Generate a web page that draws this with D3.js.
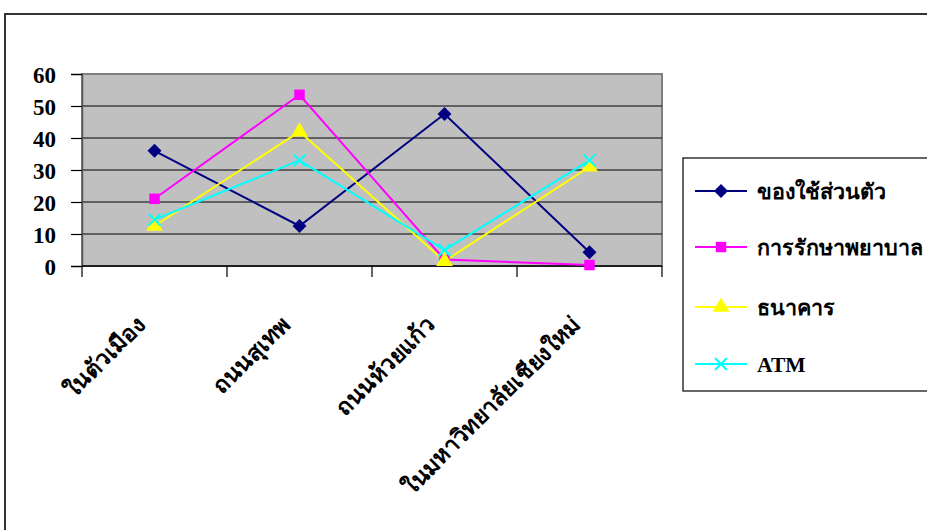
<!DOCTYPE html>
<html>
<head>
<meta charset="utf-8">
<style>
  body { margin: 0; background: #fff; }
  text { font-family: "Liberation Serif", "Times New Roman", "DejaVu Serif", serif; font-weight: bold; fill: #000; }
</style>
</head>
<body>
<div class="chart"></div>
<script src="https://d3js.org/d3.v7.min.js"></script>
<script>
  // data
  const categories = ["ในตัวเมือง", "ถนนสุเทพ", "ถนนห้วยแก้ว", "ในมหาวิทยาลัยเชียงใหม่"];
  const seriesNames = ["ของใช้ส่วนตัว", "การรักษาพยาบาล", "ธนาคาร", "ATM"];
  const personal = [36, 12.5, 47.5, 4.3];
  const medical = [21, 53.5, 2, 0.3];
  const bank = [12.5, 42, 1.5, 31];
  const atm = [14.5, 33, 5, 33];
  const yTicks = [0, 10, 20, 30, 40, 50, 60];

  const colors = ["#000080", "#ff00ff", "#ffff00", "#00ffff"];
  const symbols = ["diamond", "square", "triangle", "cross"];
  const seriesData = [personal, medical, bank, atm];

  function drawChart(){
    const width = 927, height = 530;
    const svg = d3.select(".chart")
                  .append("svg")
                  .attr("width", width)
                  .attr("height", height);

    // outer chart border
    svg.append("path")
       .attr("d", "M5,540 L5,14 L930,14")
       .attr("fill", "none")
       .attr("stroke", "#333")
       .attr("stroke-width", 2);

    const plot = {left: 82, right: 662, top: 74, bottom: 266};

    const xScale = d3.scaleBand()
                     .domain(categories)
                     .range([plot.left, plot.right]);

    const yScale = d3.scaleLinear()
                     .domain([0, 60])
                     .range([plot.bottom, plot.top]);

    // plot area
    svg.append("rect")
       .attr("x", plot.left)
       .attr("y", plot.top)
       .attr("width", plot.right - plot.left)
       .attr("height", plot.bottom - plot.top)
       .attr("fill", "#c0c0c0")
       .attr("stroke", "#808080")
       .attr("stroke-width", 2);

    // gridlines
    svg.append("g")
       .selectAll("line")
       .data(yTicks.filter(d => d > 0 && d < 60))
       .join("line")
       .attr("x1", plot.left)
       .attr("x2", plot.right)
       .attr("y1", d => yScale(d))
       .attr("y2", d => yScale(d))
       .attr("stroke", "#000")
       .attr("stroke-width", 1.2);

    // y axis
    const yAxis = d3.axisLeft(yScale)
                    .tickValues(yTicks)
                    .tickSize(11)
                    .tickPadding(15);
    const yAxisGroup = svg.append("g")
                          .attr("transform", `translate(${plot.left},0)`)
                          .call(yAxis);
    yAxisGroup.select(".domain").attr("stroke", "#555").attr("stroke-width", 1.5);
    yAxisGroup.selectAll(".tick line").attr("stroke", "#000").attr("stroke-width", 1.2);
    yAxisGroup.selectAll(".tick text")
              .style("font-size", "23px")
              .attr("dy", "0.36em");

    // x axis with ticks at category boundaries
    const xAxisGroup = svg.append("g")
                          .attr("transform", `translate(0,${plot.bottom})`);
    xAxisGroup.append("line")
              .attr("x1", plot.left).attr("x2", plot.right)
              .attr("stroke", "#000").attr("stroke-width", 1.5);
    const bounds = categories.map(c => xScale(c)).concat([plot.right]);
    xAxisGroup.selectAll("line.tick")
              .data(bounds)
              .join("line")
              .attr("class", "tick")
              .attr("x1", d => d).attr("x2", d => d)
              .attr("y1", 0).attr("y2", 11)
              .attr("stroke", "#000").attr("stroke-width", 1.2);
    xAxisGroup.selectAll("text")
              .data(categories)
              .join("text")
              .attr("transform", d => `translate(${xScale(d) + xScale.bandwidth() / 2 - 8},${60}) rotate(-45)`)
              .attr("text-anchor", "end")
              .style("font-size", "23px")
              .text(d => d);

    // series lines and markers
    const cx = i => xScale(categories[i]) + xScale.bandwidth() / 2;
    const line = d3.line()
                   .x((d, i) => cx(i))
                   .y(d => yScale(d));

    seriesData.forEach((vals, s) => {
      svg.append("path")
         .datum(vals)
         .attr("d", line)
         .attr("fill", "none")
         .attr("stroke", colors[s])
         .attr("stroke-width", 2);
    });

    function marker(g, s, x, y){
      if (symbols[s] === "cross") {
        g.append("path")
         .attr("d", `M${x-6},${y-6}L${x+6},${y+6}M${x-6},${y+6}L${x+6},${y-6}`)
         .attr("stroke", colors[s])
         .attr("stroke-width", 2);
      } else if (symbols[s] === "diamond") {
        g.append("path")
         .attr("d", `M${x},${y-7}L${x+7},${y}L${x},${y+7}L${x-7},${y}Z`)
         .attr("fill", colors[s]);
      } else {
        const sym = symbols[s] === "square" ? d3.symbol(d3.symbolSquare, 110)
                  : d3.symbol(d3.symbolTriangle, 120);
        g.append("path")
         .attr("d", sym())
         .attr("transform", `translate(${x},${y})`)
         .attr("fill", colors[s]);
      }
    }

    seriesData.forEach((vals, s) => {
      const g = svg.append("g");
      vals.forEach((v, i) => marker(g, s, cx(i), yScale(v)));
    });

    // legend
    const legend = svg.append("g");
    legend.append("rect")
          .attr("x", 683).attr("y", 158)
          .attr("width", 250).attr("height", 233)
          .attr("fill", "#fff")
          .attr("stroke", "#000").attr("stroke-width", 1.2);
    const legendY = [191, 247, 307, 364];
    seriesNames.forEach((name, s) => {
      const y = legendY[s];
      legend.append("line")
            .attr("x1", 695).attr("x2", 747)
            .attr("y1", y).attr("y2", y)
            .attr("stroke", colors[s]).attr("stroke-width", 2);
      marker(legend, s, 721, y);
      legend.append("text")
            .attr("x", 757).attr("y", y + 8)
            .style("font-size", "21.5px")
            .text(name);
    });
  }

  drawChart()
</script>
</body>
</html>
